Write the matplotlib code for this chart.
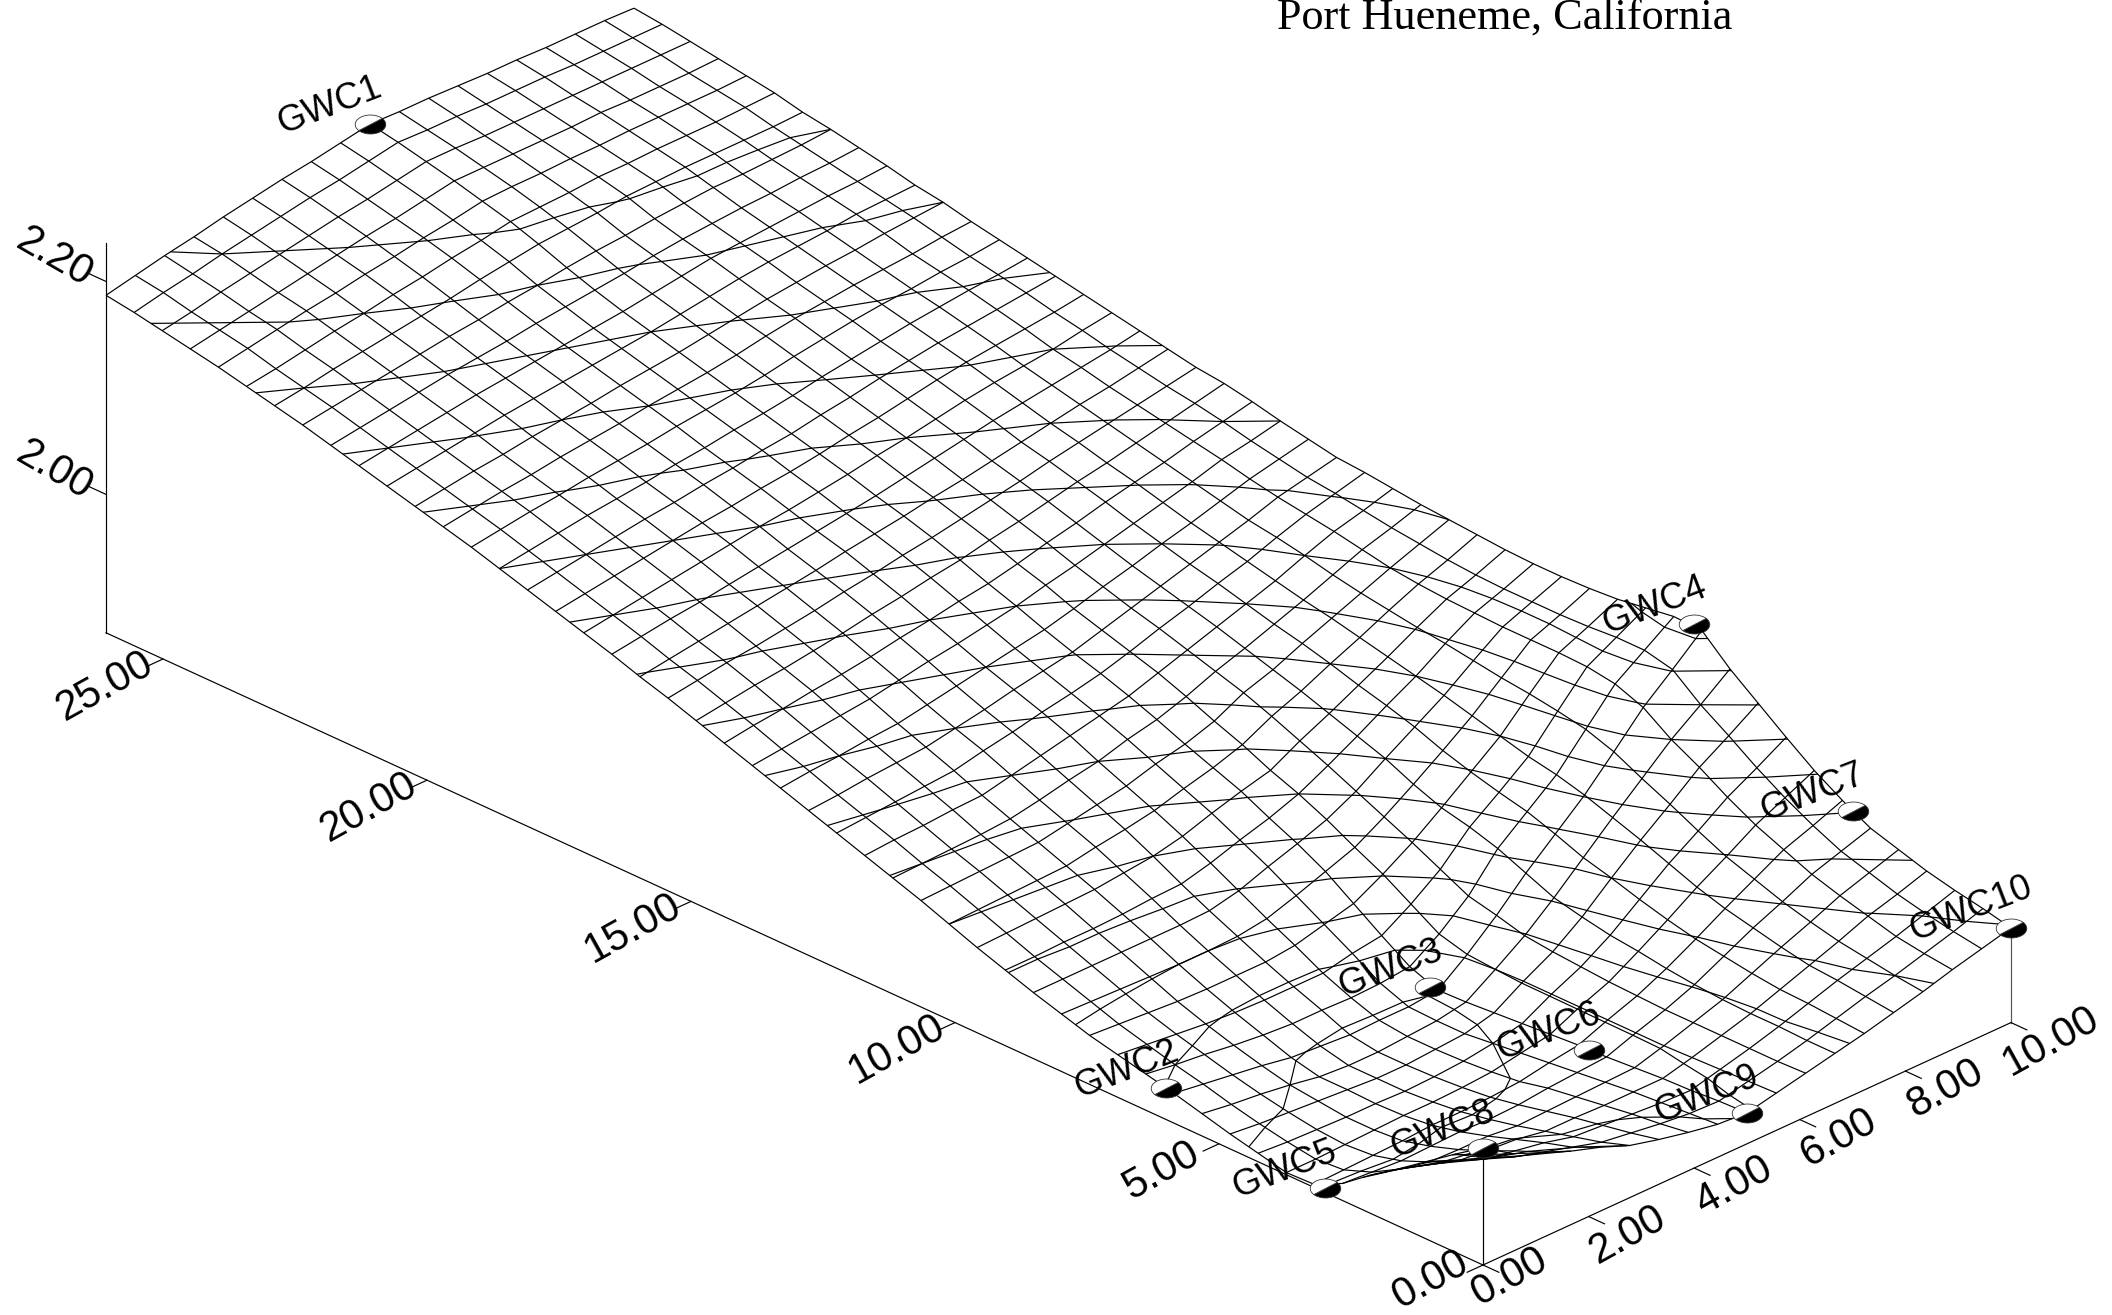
import numpy as np
import matplotlib
matplotlib.use("Agg")
import matplotlib.pyplot as plt
from matplotlib.markers import MarkerStyle
from matplotlib.transforms import Affine2D, IdentityTransform
from mpl_toolkits.mplot3d import proj3d

TITLE = "Port Hueneme, California"
X_MAX, Y_MAX, Z_MIN, Z_MAX = 26.08, 10.0, 1.87, 2.236
X_TICKS = [0, 5, 10, 15, 20, 25]
Y_TICKS = [0, 2, 4, 6, 8, 10]
Z_TICKS = [2.00, 2.20]
CONTOUR_LEVELS = [1.88, 1.90, 1.92, 1.94, 1.96, 1.98, 2.00, 2.02, 2.04, 2.06, 2.08,
                  2.10, 2.12, 2.14, 2.16, 2.18, 2.20]

WELL_NAMES = ["GWC1", "GWC2", "GWC3", "GWC4", "GWC5", "GWC6", "GWC7", "GWC8", "GWC9", "GWC10"]
WELL_X = [26.08, 6, 6, 6, 3, 3, 3, 0, 0, 0]
WELL_Y = [5, 0, 5, 10, 0, 5, 10, 0, 5, 10]
WELL_Z = [2.234, 1.900, 1.881, 2.108, 1.874, 1.890, 2.000, 1.980, 1.899, 1.959]

# surface heights (thousandths), one row per y grid line, one value per x grid line
HEIGHT = [
[1980,1962,1943,1924,1906,1886,1873,1872,1878,1884,1891,1898,1904,1910,1916,1924,1932,1941,1950,1960,1970,1979,1988,1997,2006,2015,2024,2033,2042,2051,2059,2068,2076,2084,2092,2100,2108,2115,2122,2129,2136,2143,2150,2156,2162,2168,2173,2178,2183,2187],
[1962,1946,1931,1915,1899,1884,1874,1872,1876,1881,1887,1894,1900,1907,1914,1923,1932,1941,1951,1961,1971,1980,1990,1999,2008,2018,2027,2037,2046,2055,2063,2072,2080,2088,2096,2104,2112,2119,2126,2133,2140,2147,2154,2160,2166,2173,2178,2183,2189,2193],
[1950,1934,1920,1906,1893,1882,1875,1873,1875,1879,1884,1890,1897,1904,1912,1922,1932,1942,1952,1962,1972,1981,1991,2001,2011,2020,2030,2040,2050,2059,2067,2076,2084,2092,2100,2108,2116,2123,2130,2137,2144,2151,2158,2165,2171,2178,2183,2189,2194,2199],
[1939,1926,1915,1903,1892,1883,1876,1874,1874,1877,1880,1886,1893,1901,1910,1921,1932,1942,1953,1963,1973,1982,1993,2003,2013,2023,2033,2044,2053,2062,2071,2079,2088,2096,2104,2112,2119,2126,2133,2141,2148,2155,2162,2169,2176,2183,2188,2194,2200,2204],
[1930,1918,1910,1901,1892,1884,1878,1875,1874,1875,1875,1881,1890,1899,1909,1920,1932,1943,1954,1964,1974,1984,1994,2005,2015,2025,2036,2047,2057,2066,2075,2083,2092,2100,2108,2115,2123,2130,2137,2145,2152,2159,2166,2173,2180,2187,2193,2199,2205,2210],
[1919,1910,1903,1896,1889,1883,1878,1875,1873,1873,1873,1879,1888,1898,1909,1920,1932,1945,1957,1969,1979,1989,2000,2011,2020,2030,2041,2051,2061,2070,2079,2087,2096,2104,2111,2118,2126,2133,2140,2148,2155,2162,2170,2177,2185,2192,2198,2204,2210,2215],
[1912,1906,1901,1896,1890,1884,1879,1876,1874,1873,1873,1877,1888,1898,1909,1921,1933,1946,1960,1973,1984,1995,2006,2016,2025,2035,2046,2056,2066,2075,2083,2091,2100,2107,2115,2122,2129,2136,2143,2151,2158,2165,2173,2181,2189,2196,2203,2209,2215,2220],
[1906,1902,1899,1895,1891,1887,1881,1878,1876,1875,1875,1878,1887,1898,1912,1925,1939,1953,1966,1978,1989,2000,2012,2022,2031,2040,2050,2060,2070,2079,2088,2095,2103,2111,2118,2125,2133,2140,2147,2154,2161,2169,2177,2186,2194,2201,2207,2213,2219,2224],
[1901,1899,1897,1895,1892,1889,1886,1883,1880,1877,1877,1878,1888,1904,1919,1934,1949,1962,1975,1986,1997,2008,2018,2027,2036,2045,2055,2065,2075,2084,2092,2099,2107,2114,2122,2129,2136,2143,2150,2157,2164,2172,2180,2190,2198,2205,2212,2218,2224,2229],
[1899,1898,1896,1895,1893,1891,1890,1888,1886,1884,1882,1881,1891,1908,1926,1944,1958,1970,1983,1993,2003,2014,2024,2033,2041,2050,2060,2069,2079,2088,2096,2103,2111,2118,2125,2132,2139,2146,2153,2160,2167,2175,2184,2194,2203,2210,2217,2223,2229,2234],
[1905,1904,1903,1902,1901,1901,1901,1901,1901,1901,1900,1902,1909,1925,1941,1954,1968,1980,1990,2002,2012,2023,2033,2041,2049,2057,2067,2075,2085,2093,2101,2108,2116,2123,2130,2136,2143,2150,2157,2164,2171,2178,2187,2196,2204,2211,2217,2223,2228,2233],
[1911,1910,1910,1910,1910,1910,1911,1912,1914,1916,1919,1926,1932,1945,1958,1970,1982,1994,2005,2016,2026,2034,2042,2050,2057,2065,2073,2082,2090,2098,2105,2113,2120,2127,2134,2141,2148,2155,2161,2168,2175,2182,2189,2198,2205,2211,2217,2222,2228,2233],
[1917,1917,1918,1918,1919,1921,1924,1928,1931,1936,1942,1953,1964,1972,1978,1988,2000,2009,2018,2027,2035,2043,2051,2058,2065,2072,2080,2088,2096,2103,2110,2118,2125,2132,2139,2145,2152,2159,2165,2172,2179,2185,2192,2201,2207,2212,2217,2222,2227,2232],
[1923,1925,1927,1928,1931,1935,1939,1945,1952,1960,1967,1977,1986,1992,1999,2007,2017,2025,2032,2040,2047,2053,2060,2067,2073,2080,2087,2095,2102,2109,2115,2123,2130,2137,2143,2149,2156,2162,2168,2175,2181,2187,2194,2202,2207,2212,2217,2222,2227,2231],
[1930,1933,1936,1938,1943,1949,1955,1963,1973,1983,1992,2001,2008,2013,2020,2027,2034,2040,2046,2052,2058,2063,2069,2075,2081,2087,2094,2101,2107,2114,2120,2127,2134,2141,2147,2153,2159,2165,2171,2177,2183,2189,2196,2203,2208,2213,2218,2222,2227,2231],
[1937,1940,1944,1948,1954,1961,1970,1979,1991,2004,2016,2029,2038,2043,2047,2050,2054,2058,2061,2065,2069,2074,2080,2085,2089,2095,2101,2107,2113,2119,2125,2131,2137,2144,2150,2156,2161,2167,2173,2179,2185,2190,2196,2203,2208,2213,2217,2222,2226,2230],
[1945,1948,1952,1959,1966,1974,1985,1996,2010,2026,2040,2058,2068,2072,2073,2073,2073,2074,2075,2077,2080,2085,2090,2094,2098,2103,2109,2114,2119,2124,2129,2135,2140,2147,2153,2159,2164,2169,2176,2182,2187,2192,2197,2203,2208,2213,2217,2222,2226,2230],
[1952,1956,1961,1967,1975,1983,1995,2009,2025,2043,2060,2081,2087,2087,2085,2084,2084,2084,2085,2087,2090,2093,2097,2101,2104,2109,2114,2120,2125,2129,2134,2139,2145,2150,2156,2161,2166,2172,2178,2183,2188,2193,2198,2203,2209,2213,2217,2222,2226,2230],
[1959,1965,1970,1976,1984,1992,2006,2022,2041,2061,2081,2105,2106,2102,2098,2096,2095,2095,2096,2098,2100,2102,2105,2108,2110,2115,2120,2126,2131,2134,2139,2144,2149,2154,2159,2164,2169,2174,2180,2184,2190,2195,2200,2204,2210,2214,2218,2222,2226,2229],
]

plt.rcParams["font.family"] = ["Liberation Sans", "DejaVu Sans"]
W, H = 2112, 1315
fig = plt.figure(figsize=(W / 100, H / 100), dpi=100, facecolor="white")

S0 = 1500.0
ax = fig.add_axes([(W - S0) / 2 / W, (H - S0) / 2 / H, S0 / W, S0 / H],
                  projection="3d", proj_type="ortho")
ax.computed_zorder = False
ax.set_xlim(0, Y_MAX)
ax.set_ylim(0, X_MAX)
ax.set_zlim(Z_MIN, Z_MAX)
ax.set_box_aspect((Y_MAX, X_MAX, (Z_MAX - Z_MIN) * 16.05))
ax.view_init(elev=27.33, azim=-135)
ax.set_axis_off()
ax.patch.set_alpha(0)


def to_display(y, x, z):
    ax.apply_aspect()
    px, py, _ = proj3d.proj_transform(y, x, z, ax.get_proj())
    return ax.transData.transform((px, py))


# place the box so that the axis origin and far end fall where the reference has them
ORIGIN_PX = np.array([1483.0, H - 1265.0])
FAR_PX_X = 106.0
o = to_display(0, 0, Z_MIN)
c = to_display(0, X_MAX, Z_MIN)
k = (ORIGIN_PX[0] - FAR_PX_X) / (o[0] - c[0])
ll = np.array([(W - S0) / 2, (H - S0) / 2])
size = S0 * k
new_ll = ORIGIN_PX - (o - ll) * k
ax.set_position([new_ll[0] / W, new_ll[1] / H, size / W, size / H])


def label(y, x, z, s, rot, fs, zorder=6):
    d = to_display(y, x, z)
    ax.text2D(d[0], d[1], s, transform=IdentityTransform(), rotation=rot, ha="center",
              va="center", rotation_mode="anchor", fontsize=fs, color="black", zorder=zorder)


xs = np.linspace(0, X_MAX, 50)
ys = np.linspace(0, Y_MAX, 19)
Xg, Yg = np.meshgrid(ys, xs, indexing="ij")
Zg = np.array(HEIGHT) / 1000.0

LW = 0.85
ax.plot_wireframe(Xg, Yg, Zg, rstride=1, cstride=1, color="black", linewidth=LW, zorder=2)
ax.contour(Xg, Yg, Zg, levels=CONTOUR_LEVELS, colors="black", linewidths=LW, zorder=3)

# axis frame
ax.plot([0, 0], [0, X_MAX], [Z_MIN, Z_MIN], color="k", lw=LW, zorder=1)
ax.plot([0, Y_MAX], [0, 0], [Z_MIN, Z_MIN], color="k", lw=LW, zorder=1)
ax.plot([0, 0], [X_MAX, X_MAX], [Z_MIN, Z_MAX], color="k", lw=LW, zorder=1)
ax.plot([0, 0], [0, 0], [Z_MIN, WELL_Z[7]], color="k", lw=LW, zorder=1)
ax.plot([Y_MAX, Y_MAX], [0, 0], [Z_MIN, WELL_Z[9]], color="#555555", lw=LW, zorder=1)

TS = 30
for v in X_TICKS:
    ax.plot([0, -0.3], [v, v], [Z_MIN, Z_MIN], color="k", lw=LW, clip_on=False)
    if v == 0:
        label(-0.8, 0.2, Z_MIN, f"{v:.2f}", 29, TS)
    else:
        label(-1.1, v, Z_MIN, f"{v:.2f}", 29, TS)
for v in Y_TICKS:
    ax.plot([v, v], [0, -0.3], [Z_MIN, Z_MIN], color="k", lw=LW, clip_on=False)
    label(v, -0.5 if v == 0 else -0.75, Z_MIN, f"{v:.2f}", 29, TS)
for v in Z_TICKS:
    ax.plot([0, 0], [X_MAX, X_MAX + 0.32], [v, v], color="k", lw=LW, clip_on=False)
    label(0, X_MAX + 0.98, v, f"{v:.2f}", -30, TS)

# wells
mk = MarkerStyle("o", fillstyle="bottom", transform=Affine2D().rotate_deg(40).scale(1, 0.62))
for name, wx, wy, wz in zip(WELL_NAMES, WELL_X, WELL_Y, WELL_Z):
    ax.plot([wy], [wx], [wz], linestyle="none", marker=mk, markersize=22,
            markerfacecolor="black", markerfacecoloralt="white",
            markeredgecolor="#333333", markeredgewidth=0.6, zorder=5)
    label(wy, wx + 0.76, wz, name, 21, 26)

fig.text(1277 / W, 1 - 29 / H, TITLE, family=["Liberation Serif", "DejaVu Serif"],
         fontsize=31.85, ha="left", va="baseline", color="black")

fig.savefig("out.png", dpi=100, facecolor="white")
